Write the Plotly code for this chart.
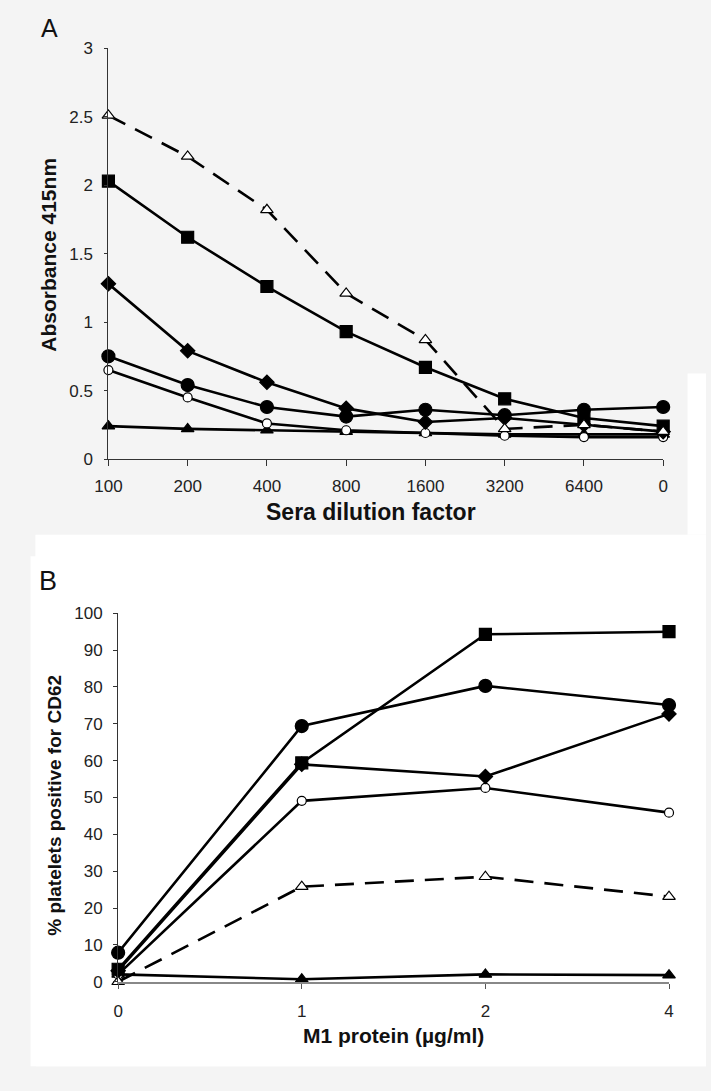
import plotly.graph_objects as go

W, H = 711, 1091

# ---------------- Panel A data ----------------
dilution = ["100", "200", "400", "800", "1600", "3200", "6400", "0"]
a_open_tri = [2.51, 2.21, 1.82, 1.21, 0.87, 0.22, 0.25, 0.20]
a_square = [2.03, 1.62, 1.26, 0.93, 0.67, 0.44, 0.30, 0.24]
a_diamond = [1.28, 0.79, 0.56, 0.37, 0.27, 0.30, 0.25, 0.20]
a_circle = [0.75, 0.54, 0.38, 0.31, 0.36, 0.32, 0.36, 0.38]
a_open_circle = [0.65, 0.45, 0.26, 0.21, 0.19, 0.17, 0.16, 0.16]
a_tri = [0.24, 0.22, 0.21, 0.20, 0.19, 0.18, 0.18, 0.18]
a_yticks = [0, 0.5, 1, 1.5, 2, 2.5, 3]
a_yticktext = ["0", "0.5", "1", "1.5", "2", "2.5", "3"]

# ---------------- Panel B data ----------------
m1 = ["0", "1", "2", "4"]
b_square = [3.4, 59.4, 94.3, 95.0]
b_circle = [7.9, 69.4, 80.3, 75.1]
b_diamond = [3.0, 59.0, 55.7, 72.7]
b_open_circle = [2.0, 49.1, 52.6, 45.9]
b_open_tri = [0.0, 25.8, 28.5, 23.1]
b_tri = [2.0, 0.7, 2.0, 1.8]
b_yticks = list(range(0, 101, 10))


def px(x):
    return x / W


def py(y):
    return 1 - y / H


fig = go.Figure()

LW = 2.6
DASH = "19px,11px"

styles = [
    # (key, marker symbol, size, fill, dash)
    ("tri", "triangle-up", 11, "black", "solid"),
    ("open_circle", "circle", 9, "white", "solid"),
    ("circle", "circle", 13, "black", "solid"),
    ("diamond", "diamond", 11, "black", "solid"),
    ("square", "square", 12, "black", "solid"),
    ("open_tri", "triangle-up", 11, "white", "dash"),
]

a_data = {"tri": a_tri, "open_circle": a_open_circle, "circle": a_circle,
          "diamond": a_diamond, "square": a_square, "open_tri": a_open_tri}
b_data = {"tri": b_tri, "open_circle": b_open_circle, "circle": b_circle,
          "diamond": b_diamond, "square": b_square, "open_tri": b_open_tri}

for key, sym, size, fill, dash in styles:
    fig.add_trace(go.Scatter(
        x=dilution, y=a_data[key], xaxis="x", yaxis="y", mode="lines+markers",
        line=dict(color="black", width=LW, dash=DASH if dash == "dash" else "solid"),
        marker=dict(symbol=sym, size=size, color=fill, line=dict(color="black", width=1.2)),
        cliponaxis=False, showlegend=False, hoverinfo="skip"))

for key, sym, size, fill, dash in styles:
    fig.add_trace(go.Scatter(
        x=m1, y=b_data[key], xaxis="x2", yaxis="y2", mode="lines+markers",
        line=dict(color="black", width=LW, dash=DASH if dash == "dash" else "solid"),
        marker=dict(symbol=sym, size=size, color=fill, line=dict(color="black", width=1.2)),
        cliponaxis=False, showlegend=False, hoverinfo="skip"))

FONT = "Liberation Sans, Arial, sans-serif"
tickfont = dict(family=FONT, size=17, color="#222")

fig.update_layout(
    width=W, height=H, autosize=False,
    margin=dict(l=0, r=0, t=0, b=0),
    paper_bgcolor="#f4f4f4", plot_bgcolor="rgba(0,0,0,0)",
    xaxis=dict(type="category", domain=[px(97), px(667)], range=[0, 7],
               anchor="y", showgrid=False, zeroline=False, showline=True,
               linecolor="#333", linewidth=1, ticks="outside", ticklen=6,
               tickcolor="#333", tickfont=tickfont, ticklabelstandoff=6),
    yaxis=dict(domain=[py(458), py(40)], range=[0, 3], anchor="x",
               tickvals=a_yticks, ticktext=a_yticktext,
               showgrid=False, zeroline=False, showline=True,
               linecolor="#333", linewidth=1, ticks="outside", ticklen=3,
               tickcolor="#333", tickfont=tickfont, ticklabelstandoff=8),
    xaxis2=dict(type="category", domain=[px(107), px(673)], range=[0, 3],
                anchor="y2", showgrid=False, zeroline=False, showline=True,
                linecolor="#888", linewidth=2, ticks="outside", ticklen=5,
                tickcolor="#555", tickfont=tickfont, ticklabelstandoff=8),
    yaxis2=dict(domain=[py(990), py(615)], range=[0, 100], anchor="x2",
                tickvals=b_yticks, showgrid=False, zeroline=False, showline=True,
                linecolor="#333", linewidth=1, ticks="outside", ticklen=4,
                tickcolor="#333", tickfont=tickfont, ticklabelstandoff=7),
)

# background panels
shapes = [
    dict(type="rect", xref="paper", yref="paper", x0=px(22), x1=1, y0=py(1076), y1=py(535),
         fillcolor="white", line=dict(width=0), layer="below"),
    dict(type="rect", xref="paper", yref="paper", x0=px(17), x1=1, y0=py(1076), y1=py(557),
         fillcolor="white", line=dict(width=0), layer="below"),
    dict(type="rect", xref="paper", yref="paper", x0=px(692), x1=1, y0=py(535), y1=py(371),
         fillcolor="white", line=dict(width=0), layer="below"),
]
fig.update_layout(shapes=shapes)

ann = [
    dict(text="A", x=px(36), y=py(19), font=dict(family=FONT, size=25, color="#111")),
    dict(text="B", x=px(35), y=py(582), font=dict(family=FONT, size=27, color="#111")),
    dict(text="<b>Sera dilution factor</b>", x=px(367), y=py(512),
         font=dict(family=FONT, size=23, color="#111")),
    dict(text="<b>Absorbance 415nm</b>", x=px(36), y=py(250), textangle=-90,
         font=dict(family=FONT, size=21, color="#111")),
    dict(text="<b>M1 protein (µg/ml)</b>", x=px(390), y=py(1045),
         font=dict(family=FONT, size=21, color="#111")),
    dict(text="<b>% platelets positive for CD62</b>", x=px(42), y=py(810), textangle=-90,
         font=dict(family=FONT, size=19, color="#111")),
]
for a in ann:
    a.update(xref="paper", yref="paper", showarrow=False, xanchor="center", yanchor="middle")
fig.update_layout(annotations=ann)

fig.write_html("out.html")
